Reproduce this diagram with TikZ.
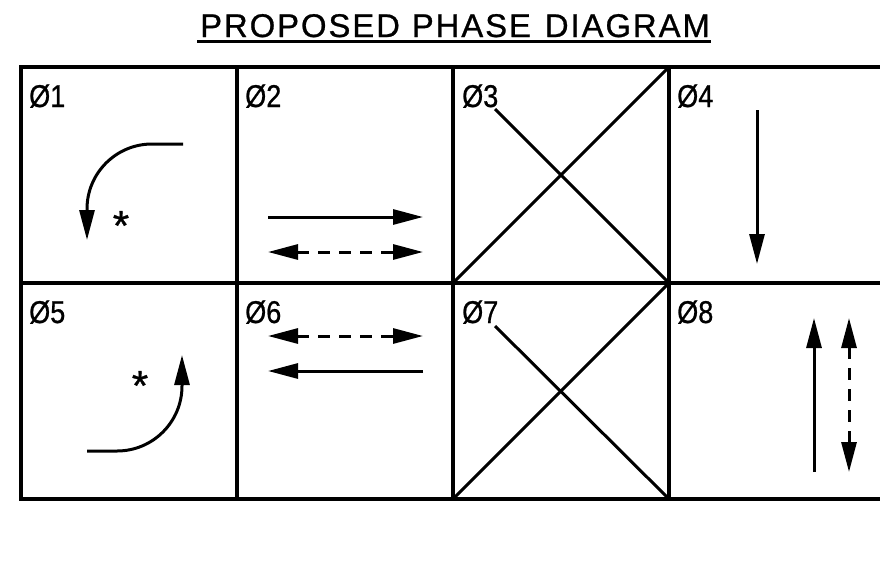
\documentclass[tikz,border=0pt]{standalone}
\usepackage{fontspec}
\setmainfont[FakeBold=0.8]{Liberation Sans}
\newfontfamily\titlefont[FakeBold=0.8,LetterSpace=6]{Liberation Sans}
\usetikzlibrary{arrows.meta}
\begin{document}
\begin{tikzpicture}[x=1pt,y=-1pt,
  grid/.style={line width=3.1pt},
  stroke/.style={line width=3pt},
  arr/.style={line width=3pt,-{Triangle[length=30pt,width=15pt]}},
  darr/.style={line width=3pt,dash pattern=on 12pt off 9pt,{Triangle[length=30pt,width=15pt]}-{Triangle[length=30pt,width=15pt]}},
  lbl/.style={anchor=base west,inner sep=0pt,xscale=0.86,font=\fontsize{31.5}{34}\selectfont},
  star/.style={anchor=base,inner sep=0pt,font=\fontsize{42}{50}\selectfont}]
\clip (0,0) rectangle (880,571);
\fill[white] (0,0) rectangle (880,571);
% title
\node[anchor=base west,inner sep=0pt,font=\titlefont\fontsize{32.8}{36}\selectfont] (title) at (200,37) {PROPOSED\hspace{12pt}PHASE\hspace{14pt}DIAGRAM};
\draw[line width=3pt] ([xshift=-3pt,yshift=-4pt]title.base west) -- ([xshift=1pt,yshift=-4pt]title.base east);
% grid
\draw[grid] (21,67) rectangle (885,499);
\draw[grid] (21,283) -- (885,283);
\foreach \x in {237,453,669} \draw[grid] (\x,67) -- (\x,499);
% labels
\node[lbl] (l1) at (29,107) {Ø1};
\node[lbl] (l2) at (245,107) {Ø2};
\node[lbl] (l3) at (462,107) {Ø3};
\node[lbl] (l4) at (677,107) {Ø4};
\node[lbl] (l5) at (29,323) {Ø5};
\node[lbl] (l6) at (245,323) {Ø6};
\node[lbl] (l7) at (462,323) {Ø7};
\node[lbl] (l8) at (677,323) {Ø8};
% phase 1
\coordinate (p1s) at (183,144);
\draw[arr] (p1s) -- ++(-31,0) arc[start angle=-90,end angle=-180,radius=65] -- ++(0,31);
\node[star] (s1) at (121,240) {*};
% phase 2
\coordinate (p2a) at (268,217); \coordinate (p2b) at (423,217);
\coordinate (p2c) at (268,252); \coordinate (p2d) at (423,252);
\draw[arr] (p2a) -- (p2b);
\draw[darr] (p2c) -- (p2d);
% phase 3
\coordinate (c3bl) at (453,283); \coordinate (c3tr) at (669,67);
\coordinate (c3br) at (669,283); \coordinate (c3e) at (495,109);
\draw[stroke] (c3bl) -- (c3tr);
\draw[stroke] (c3br) -- (c3e);
% phase 4
\coordinate (p4a) at (757,110); \coordinate (p4b) at (757,264);
\draw[arr] (p4a) -- (p4b);
% phase 5
\coordinate (p5s) at (87,451);
\draw[arr] (p5s) -- ++(30,0) arc[start angle=90,end angle=0,radius=65] -- ++(0,-31);
\node[star] (s5) at (140,400) {*};
% phase 6
\coordinate (p6a) at (268,336); \coordinate (p6b) at (423,336);
\coordinate (p6c) at (423,371); \coordinate (p6d) at (268,371);
\draw[darr] (p6a) -- (p6b);
\draw[arr] (p6c) -- (p6d);
% phase 7
\coordinate (c7bl) at (453,499); \coordinate (c7tr) at (669,283);
\coordinate (c7br) at (669,499); \coordinate (c7e) at (495,326);
\draw[stroke] (c7bl) -- (c7tr);
\draw[stroke] (c7br) -- (c7e);
% phase 8
\coordinate (p8a) at (814,472); \coordinate (p8b) at (814,318);
\coordinate (p8c) at (849,318); \coordinate (p8d) at (849,472);
\draw[arr] (p8a) -- (p8b);
\draw[darr] (p8c) -- (p8d);
\end{tikzpicture}
\end{document}
